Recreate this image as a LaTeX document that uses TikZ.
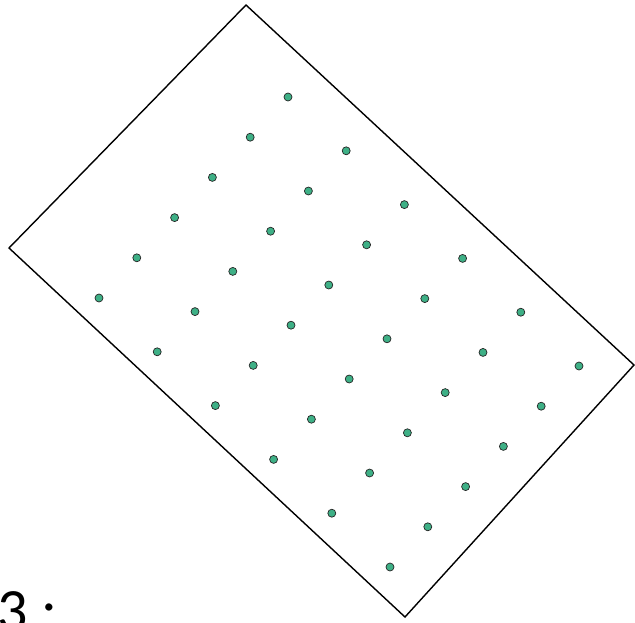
\documentclass[tikz,border=0pt]{standalone}
\usepackage{fontspec}
\setmainfont{Carlito}
\definecolor{dotgreen}{RGB}{62,176,134}
\begin{document}
\begin{tikzpicture}[x=1pt,y=-1pt,
  dot/.style={circle,draw=black!85,fill=dotgreen,line width=0.7pt,inner sep=0pt,minimum size=8pt},
  frame/.style={draw=black,line width=1.4pt,line join=miter}]
\useasboundingbox (0,0) rectangle (635,622);
\coordinate (T) at (246,5);
\coordinate (R) at (634,365);
\coordinate (B) at (405,617);
\coordinate (L) at (9,248);
\draw[frame] (T) -- (R) -- (B) -- (L) -- cycle;
\foreach \i in {0,...,5} {
  \foreach \j in {0,...,5} {
    \node[dot] (d\i\j) at ({288+58.2*\j-37.8*\i},{97+53.8*\j+40.2*\i}) {};
  }
}
\node[anchor=base west,font=\fontsize{60}{70}\selectfont,inner sep=0pt] (lbl) at (-3,630) {3 :};
\end{tikzpicture}
\end{document}
